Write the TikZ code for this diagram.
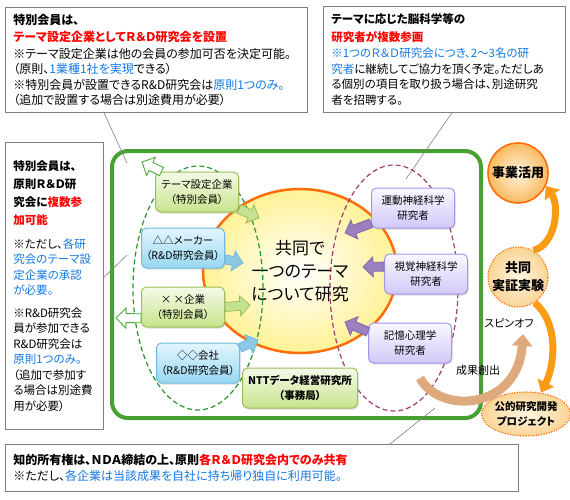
\documentclass[tikz,border=0pt]{standalone}
\usepackage{fontspec}
\setmainfont[RawFeature=+palt]{Noto Sans CJK JP}
\usetikzlibrary{shapes.geometric,shadows,arrows.meta,calc}

\definecolor{boxgray}{RGB}{128,128,128}
\definecolor{kred}{RGB}{255,0,0}
\definecolor{kblue}{RGB}{20,120,230}
\definecolor{framegreen}{RGB}{70,160,50}
\definecolor{coreorange}{RGB}{255,110,10}
\definecolor{coreyellow}{RGB}{255,242,150}
\definecolor{dashgreen}{RGB}{40,150,40}
\definecolor{dashpurple}{RGB}{160,60,110}
\definecolor{gline}{RGB}{155,190,90}
\definecolor{gtop}{RGB}{244,250,232}
\definecolor{gbot}{RGB}{200,228,140}
\definecolor{bline}{RGB}{110,185,225}
\definecolor{btop}{RGB}{228,246,255}
\definecolor{bbot}{RGB}{150,215,240}
\definecolor{lline}{RGB}{165,150,235}
\definecolor{ltop}{RGB}{250,248,255}
\definecolor{lbot}{RGB}{210,200,248}
\definecolor{garrow}{RGB}{198,226,145}
\definecolor{barrow}{RGB}{140,200,228}
\definecolor{parrow}{RGB}{155,128,192}
\definecolor{pline}{RGB}{130,105,170}
\definecolor{hollowline}{RGB}{80,170,60}
\definecolor{flowline}{RGB}{250,155,20}
\definecolor{spinline}{RGB}{222,170,125}
\definecolor{ballin}{RGB}{255,246,225}
\definecolor{ballout}{RGB}{250,185,95}
\definecolor{ballpale}{RGB}{250,212,150}

\newcommand\fatarrow[3][]{%
	\path[#1] let \p1=#2, \p2=#3, \n1={atan2(\y2-\y1,\x2-\x1)}, \n3={veclen(\x2-\x1,\y2-\y1)}, \n2={\n3-10} in
		{[shift={(\p1)}, rotate=\n1] (0,-4.5) -- (\n2,-4.5) -- (\n2,-10) -- (\n3,0) -- (\n2,10) -- (\n2,4.5) -- (0,4.5) -- cycle};}

\tikzset{
	callout/.style={draw=boxgray, line width=0.8pt, fill=white, anchor=north west, align=left, inner xsep=8pt, font=\fontsize{11.5}{15.5}\selectfont},
	leader/.style={draw=boxgray, line width=0.6pt},
	membox/.style={draw, line width=1pt, rounded corners=5pt, minimum width=83pt, minimum height=40pt, align=center, font=\fontsize{10.5}{15}\selectfont, drop shadow={shadow xshift=1pt, shadow yshift=-1.5pt, opacity=0.25}},
	greenbox/.style={membox, draw=gline, top color=gtop, bottom color=gbot},
	bluebox/.style={membox, draw=bline, top color=btop, bottom color=bbot},
	lavbox/.style={membox, draw=lline, top color=ltop, bottom color=lbot},
	fatgreen/.style={draw=gline, fill=garrow, line width=0.8pt},
	fatblue/.style={draw=bline, fill=barrow, line width=0.8pt},
	fatpurple/.style={draw=pline, fill=parrow, line width=0.8pt},
	hollowgreen/.style={draw=hollowline, fill=white, line width=0.9pt},
	ball/.style={circle, minimum size=60pt, inner sep=0pt, align=center, font=\bfseries\fontsize{13}{18}\selectfont, inner color=ballin, outer color=ballpale, draw=coreorange, line width=1.6pt, dash pattern=on 0pt off 2.6pt, line cap=round},
	flow/.style={draw=flowline, line width=7pt, -{Triangle[width=18pt,length=11pt]}},
}

\begin{document}
\begin{tikzpicture}[x=1pt, y=-1pt]
	\useasboundingbox (0,0) rectangle (570,499);
	\node[callout, minimum width=302pt, minimum height=105pt, text width=286pt, font=\fontsize{12}{15.5}\selectfont] (tl) at (5,7) {{\bfseries 特別会員は、}\\[2pt]{\bfseries\color{kred}テーマ設定企業としてＲ＆Ｄ研究会を設置}\\[1pt]※テーマ設定企業は他の会員の参加可否を決定可能。\\（原則、{\color{kblue}1業種1社を実現}できる）\\※特別会員が設置できるR\&D研究会は{\color{kblue}原則1つのみ。}\\（追加で設置する場合は別途費用が必要）};
	\node[callout, minimum width=242pt, minimum height=106pt, text width=226pt] (tr) at (323,6) {{\bfseries テーマに応じた脳科学等の}\\[2pt]{\bfseries\color{kred}研究者が複数参画}\\[1pt]{\color{kblue}※1つのＲ＆Ｄ研究会につき、2～3名の研}\\{\color{kblue}究者}に継続してご協力を頂く予定。ただしあ\\る個別の項目を取り扱う場合は、別途研究\\者を招聘する。};
	\node[callout, minimum width=98pt, minimum height=287pt, text width=82pt] (lb) at (5,142) {{\bfseries 特別会員は、}\\[2.5pt]{\bfseries 原則Ｒ＆Ｄ研}\\[2.5pt]{\bfseries 究会に{\color{kred}複数参}}\\[2.5pt]{\bfseries\color{kred}加可能}\\[8pt]※ただし、{\color{kblue}各研}\\{\color{kblue}究会のテーマ設}\\{\color{kblue}定企業の承認}\\{\color{kblue}が必要。}\\[7pt]※R\&D研究会\\員が参加できる\\R\&D研究会は\\{\color{kblue}原則1つのみ。}\\（追加で参加す\\る場合は別途費\\用が必要）};
	\node[callout, minimum width=513pt, minimum height=47pt, text width=497pt, font=\fontsize{12}{15.5}\selectfont] (bt) at (5,444) {{\bfseries 知的所有権は、ＮＤＡ締結の上、原則{\color{kred}各Ｒ＆Ｄ研究会内でのみ共有}}\\※ただし、{\color{kblue}各企業は当該成果を自社に持ち帰り独自に利用可能。}};
	\node[draw=framegreen, fill=white, line width=4pt, rounded corners=16pt, minimum width=369pt, minimum height=267pt] (frame) at (296.5,284.5) {};
	\coordinate (tlend) at (127,163);
	\coordinate (trend) at (406,179);
	\coordinate (lbend) at (127,255);
	\coordinate (btend) at (435,408);
	\draw[leader] ([xshift=99pt]tl.south west) -- (tlend);
	\draw[leader] ([xshift=129pt]tr.south west) -- (trend);
	\draw[leader] ([yshift=8.5pt]lb.east) -- (lbend);
	\draw[leader] ([xshift=385pt]bt.north west) -- (btend);
	\node[ellipse, draw=coreorange, line width=2.5pt, inner color=white, outer color=coreyellow, minimum width=194pt, minimum height=164pt, align=center, font=\fontsize{17}{23}\selectfont] (core) at (300,271) {共同で\\一つのテーマ\\について研究};
	\node[ellipse, draw=dashgreen, line width=1.2pt, dash pattern=on 5pt off 3pt, minimum width=130pt, minimum height=244pt] (kigyo) at (198,288) {};
	\node[ellipse, draw=dashpurple, line width=1.2pt, dash pattern=on 5pt off 3pt, minimum width=128pt, minimum height=246pt] (kenkyu) at (394,288) {};
	\node[greenbox] (t1) at (197,192) {テーマ設定企業\\（特別会員）};
	\node[bluebox] (t2) at (183,248) {△△メーカー\\（R\&D研究会員）};
	\node[greenbox] (t3) at (183,307) {× ×企業\\（特別会員）};
	\node[bluebox] (t4) at (198,363) {◇◇会社\\（R\&D研究会員）};
	\node[greenbox, minimum width=115pt, font=\bfseries\fontsize{10.5}{15}\selectfont] (ntt) at (300,388) {NTTデータ経営研究所\\（事務局）};
	\node[lavbox] (r1) at (413,208) {運動神経科学\\研究者};
	\node[lavbox] (r2) at (426,274) {視覚神経科学\\研究者};
	\node[lavbox] (r3) at (410,343) {記憶心理学\\研究者};
	\coordinate (t1out) at (142,162);
	\coordinate (t1in) at (259,218);
	\coordinate (t2in) at (243,263);
	\coordinate (t3out) at (116,318);
	\coordinate (t3in) at (250,305);
	\coordinate (t4in) at (258,340);
	\coordinate (r1in) at (345,233);
	\coordinate (r2in) at (363,267);
	\coordinate (r3in) at (345,322);
	\fatarrow[hollowgreen]{(t1.150)}{(t1out)}
	\fatarrow[fatgreen]{(t1.-22)}{(t1in)}
	\fatarrow[fatblue]{(t2.-15)}{(t2in)}
	\fatarrow[hollowgreen]{(t3.-165)}{(t3out)}
	\fatarrow[fatgreen]{(t3.east)}{(t3in)}
	\fatarrow[fatblue]{(t4.20)}{(t4in)}
	\fatarrow[fatpurple]{(r1.-160)}{(r1in)}
	\fatarrow[fatpurple]{(r2.170)}{(r2in)}
	\fatarrow[fatpurple]{(r3.165)}{(r3in)}
	\node[ball, outer color=ballout, solid] (jigyo) at (518,173) {事業活用};
	\node[ball] (jikken) at (518,277) {共同\\実証実験};
	\node[ball, ellipse, minimum width=64pt, minimum height=44pt, font=\bfseries\fontsize{10.5}{15}\selectfont] (koteki) at (526,414) {公的研究開発\\プロジェクト};
	\draw[flow] (jikken.60) .. controls +(22,-5) and +(14,20) .. (jigyo.-25);
	\draw[flow] (jikken.-57) .. controls +(24,20) and +(14,-28) .. (koteki.55);
	\coordinate (seika) at (420,378);
	\coordinate (spin) at (523,334);
	\draw[draw=spinline, line width=9pt, -{Triangle[width=20pt,length=12pt]}] (seika) .. controls (440,415) and (518,410) .. (spin);
	\node[font=\fontsize{11}{14}\selectfont] (seikalabel) at (478,370) {成果創出};
	\node[font=\fontsize{11}{14}\selectfont] (spinlabel) at (509,323) {スピンオフ};
\end{tikzpicture}
\end{document}
